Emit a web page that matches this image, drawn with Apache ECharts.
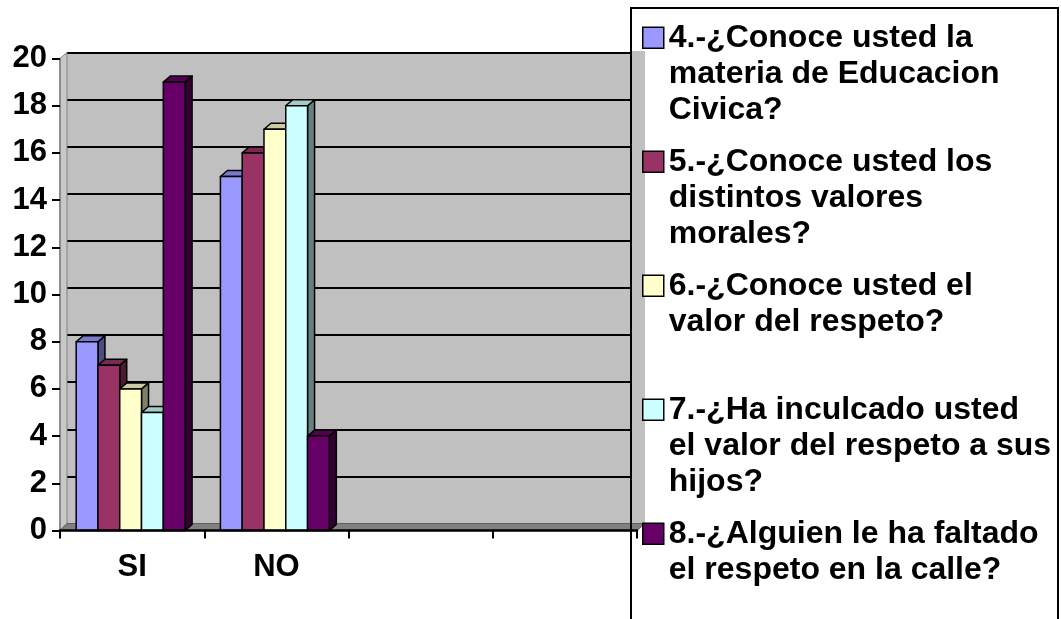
<!DOCTYPE html>
<html>
<head>
<meta charset="utf-8">
<script src="https://cdn.jsdelivr.net/npm/echarts@6/dist/echarts.min.js"></script>
<style>
html,body{margin:0;padding:0;background:#fff;}
#chart{width:1061px;height:619px;}
</style>
</head>
<body>
<div id="chart"></div>
<script>
// ---- data ----
const categories = ['SI', 'NO', '', ''];
const seriesNames = [
  '4.-¿Conoce usted la materia de Educacion Civica?',
  '5.-¿Conoce usted los distintos valores morales?',
  '6.-¿Conoce usted el valor del respeto?',
  '7.-¿Ha inculcado usted el valor del respeto a sus hijos?',
  '8.-¿Alguien le ha faltado el respeto en la calle?'
];
const legendLines = [
  ['4.-¿Conoce usted la', 'materia de Educacion', 'Civica?'],
  ['5.-¿Conoce usted los', 'distintos valores', 'morales?'],
  ['6.-¿Conoce usted el', 'valor del respeto?', '\u00a0'],
  ['7.-¿Ha inculcado usted', 'el valor del respeto a sus', 'hijos?'],
  ['8.-¿Alguien le ha faltado', 'el respeto en la calle?', '\u00a0']
];
const q4 = [8, 15];
const q5 = [7, 16];
const q6 = [6, 17];
const q7 = [5, 18];
const q8 = [19, 4];
const yTicks = { min: 0, max: 20, interval: 2 };

// ---- style ----
const seriesValues = [q4, q5, q6, q7, q8];
const colors = ['#9999FF', '#993366', '#FFFFCC', '#CCFFFF', '#660066'];
const FONT = "'Liberation Sans', Arial, sans-serif";

function shade(hex, f) {
  const n = parseInt(hex.slice(1), 16);
  const r = Math.round(((n >> 16) & 255) * f);
  const g = Math.round(((n >> 8) & 255) * f);
  const b = Math.round((n & 255) * f);
  return 'rgb(' + r + ',' + g + ',' + b + ')';
}

const BAR_FRAC = 0.151;
const DX = 7, DY = -6;

function makeRender(si) {
  const front = colors[si], topC = shade(colors[si], 0.8), sideC = shade(colors[si], 0.5);
  return function (params, api) {
    const cat = api.value(0), val = api.value(1);
    const pt = api.coord([cat, val]);
    const base = api.coord([cat, 0]);
    const band = api.size([1, 0])[0];
    const bw = band * BAR_FRAC;
    const x0 = pt[0] - bw * 2.5 - 1.5 + si * bw;
    const x1 = x0 + bw;
    const yT = pt[1], yB = base[1];
    const st = { stroke: '#000', lineWidth: 1.5, lineJoin: 'round' };
    return {
      type: 'group',
      children: [
        { type: 'polygon', shape: { points: [[x1, yT], [x1 + DX, yT + DY], [x1 + DX, yB + DY], [x1, yB]] },
          style: Object.assign({ fill: sideC }, st) },
        { type: 'polygon', shape: { points: [[x0, yT], [x0 + DX, yT + DY], [x1 + DX, yT + DY], [x1, yT]] },
          style: Object.assign({ fill: topC }, st) },
        { type: 'rect', shape: { x: x0, y: yT, width: bw, height: yB - yT },
          style: Object.assign({ fill: front }, st) }
      ]
    };
  };
}

const legendMap = {};
seriesNames.forEach((n, i) => { legendMap[n] = legendLines[i].join('\n'); });

const series = seriesNames.map((name, i) => ({
  type: 'custom',
  name: name,
  xAxisIndex: 0,
  yAxisIndex: 0,
  z: 2,
  renderItem: makeRender(i),
  itemStyle: { color: colors[i], borderColor: '#000', borderWidth: 1.5 },
  encode: { x: 0, y: 1 },
  data: seriesValues[i].map((v, c) => [c, v])
}));

const LH = 36;
const chart = echarts.init(document.getElementById('chart'), null, { renderer: 'canvas' });
chart.setOption({
  animation: false,
  backgroundColor: '#fff',
  grid: [
    { left: 60, right: 424, top: 58.5, bottom: 88.5, show: false },
    { left: 67, right: 416, top: 52.5, bottom: 95.5, show: true, backgroundColor: '#c0c0c0', borderWidth: 0, z: 0 }
  ],
  xAxis: [
    {
      type: 'category', gridIndex: 0, data: categories, boundaryGap: true, z: 5,
      axisLine: { lineStyle: { color: '#000', width: 2.5 } },
      axisTick: { show: true, interval: 0, length: 8, lineStyle: { color: '#000', width: 2 } },
      axisLabel: { interval: 0, margin: 21, color: '#000', fontFamily: FONT, fontWeight: 'bold', fontSize: 31 }
    },
    { type: 'category', gridIndex: 1, data: categories, show: false }
  ],
  yAxis: [
    {
      type: 'value', gridIndex: 0, min: yTicks.min, max: yTicks.max, interval: yTicks.interval, z: 5,
      axisLine: { show: true, lineStyle: { color: '#808080', width: 1.5 } },
      axisTick: { show: true, length: 8, lineStyle: { color: '#000', width: 2 } },
      splitLine: { show: false },
      axisLabel: { margin: 13, color: '#000', fontFamily: FONT, fontWeight: 'bold', fontSize: 31 }
    },
    {
      type: 'value', gridIndex: 1, min: yTicks.min, max: yTicks.max, interval: yTicks.interval, z: 0,
      axisLine: { show: false }, axisTick: { show: false }, axisLabel: { show: false },
      splitLine: { show: true, lineStyle: { color: '#000', width: 2 } }
    }
  ],
  legend: {
    orient: 'vertical',
    left: 642,
    top: 19,
    height: 900,
    width: 420,
    padding: 0,
    itemGap: 14.5,
    itemWidth: 21,
    itemHeight: 3 * LH,
    selectedMode: false,
    icon: 'path://M0,0L0,0M0,108L0,108M0,7.5L21,7.5L21,28.5L0,28.5Z',
    itemStyle: { borderColor: '#000', borderWidth: 1.5 },
    formatter: function (name) { return legendMap[name]; },
    textStyle: { color: '#000', fontFamily: FONT, fontWeight: 'bold', fontSize: 32, lineHeight: LH },
    data: seriesNames
  },
  graphic: [
    { type: 'polygon', z: 1, silent: true,
      shape: { points: [[60, 58.5], [67, 52.5], [67, 523.5], [60, 530.5]] },
      style: { fill: '#c8c8c8', stroke: '#808080', lineWidth: 1 } },
    { type: 'rect', z: 1, silent: true,
      shape: { x: 632, y: 51, width: 13, height: 474 },
      style: { fill: '#c0c0c0' } },
    { type: 'polygon', z: 1, silent: true,
      shape: { points: [[60, 530.5], [637, 530.5], [645, 523.5], [67, 523.5]] },
      style: { fill: '#808080', stroke: '#606060', lineWidth: 1 } },
    { type: 'rect', z: 10, silent: true,
      shape: { x: 631, y: 8, width: 427, height: 640 },
      style: { fill: 'none', stroke: '#000', lineWidth: 2 } }
  ],
  series: series
});
</script>
</body>
</html>
